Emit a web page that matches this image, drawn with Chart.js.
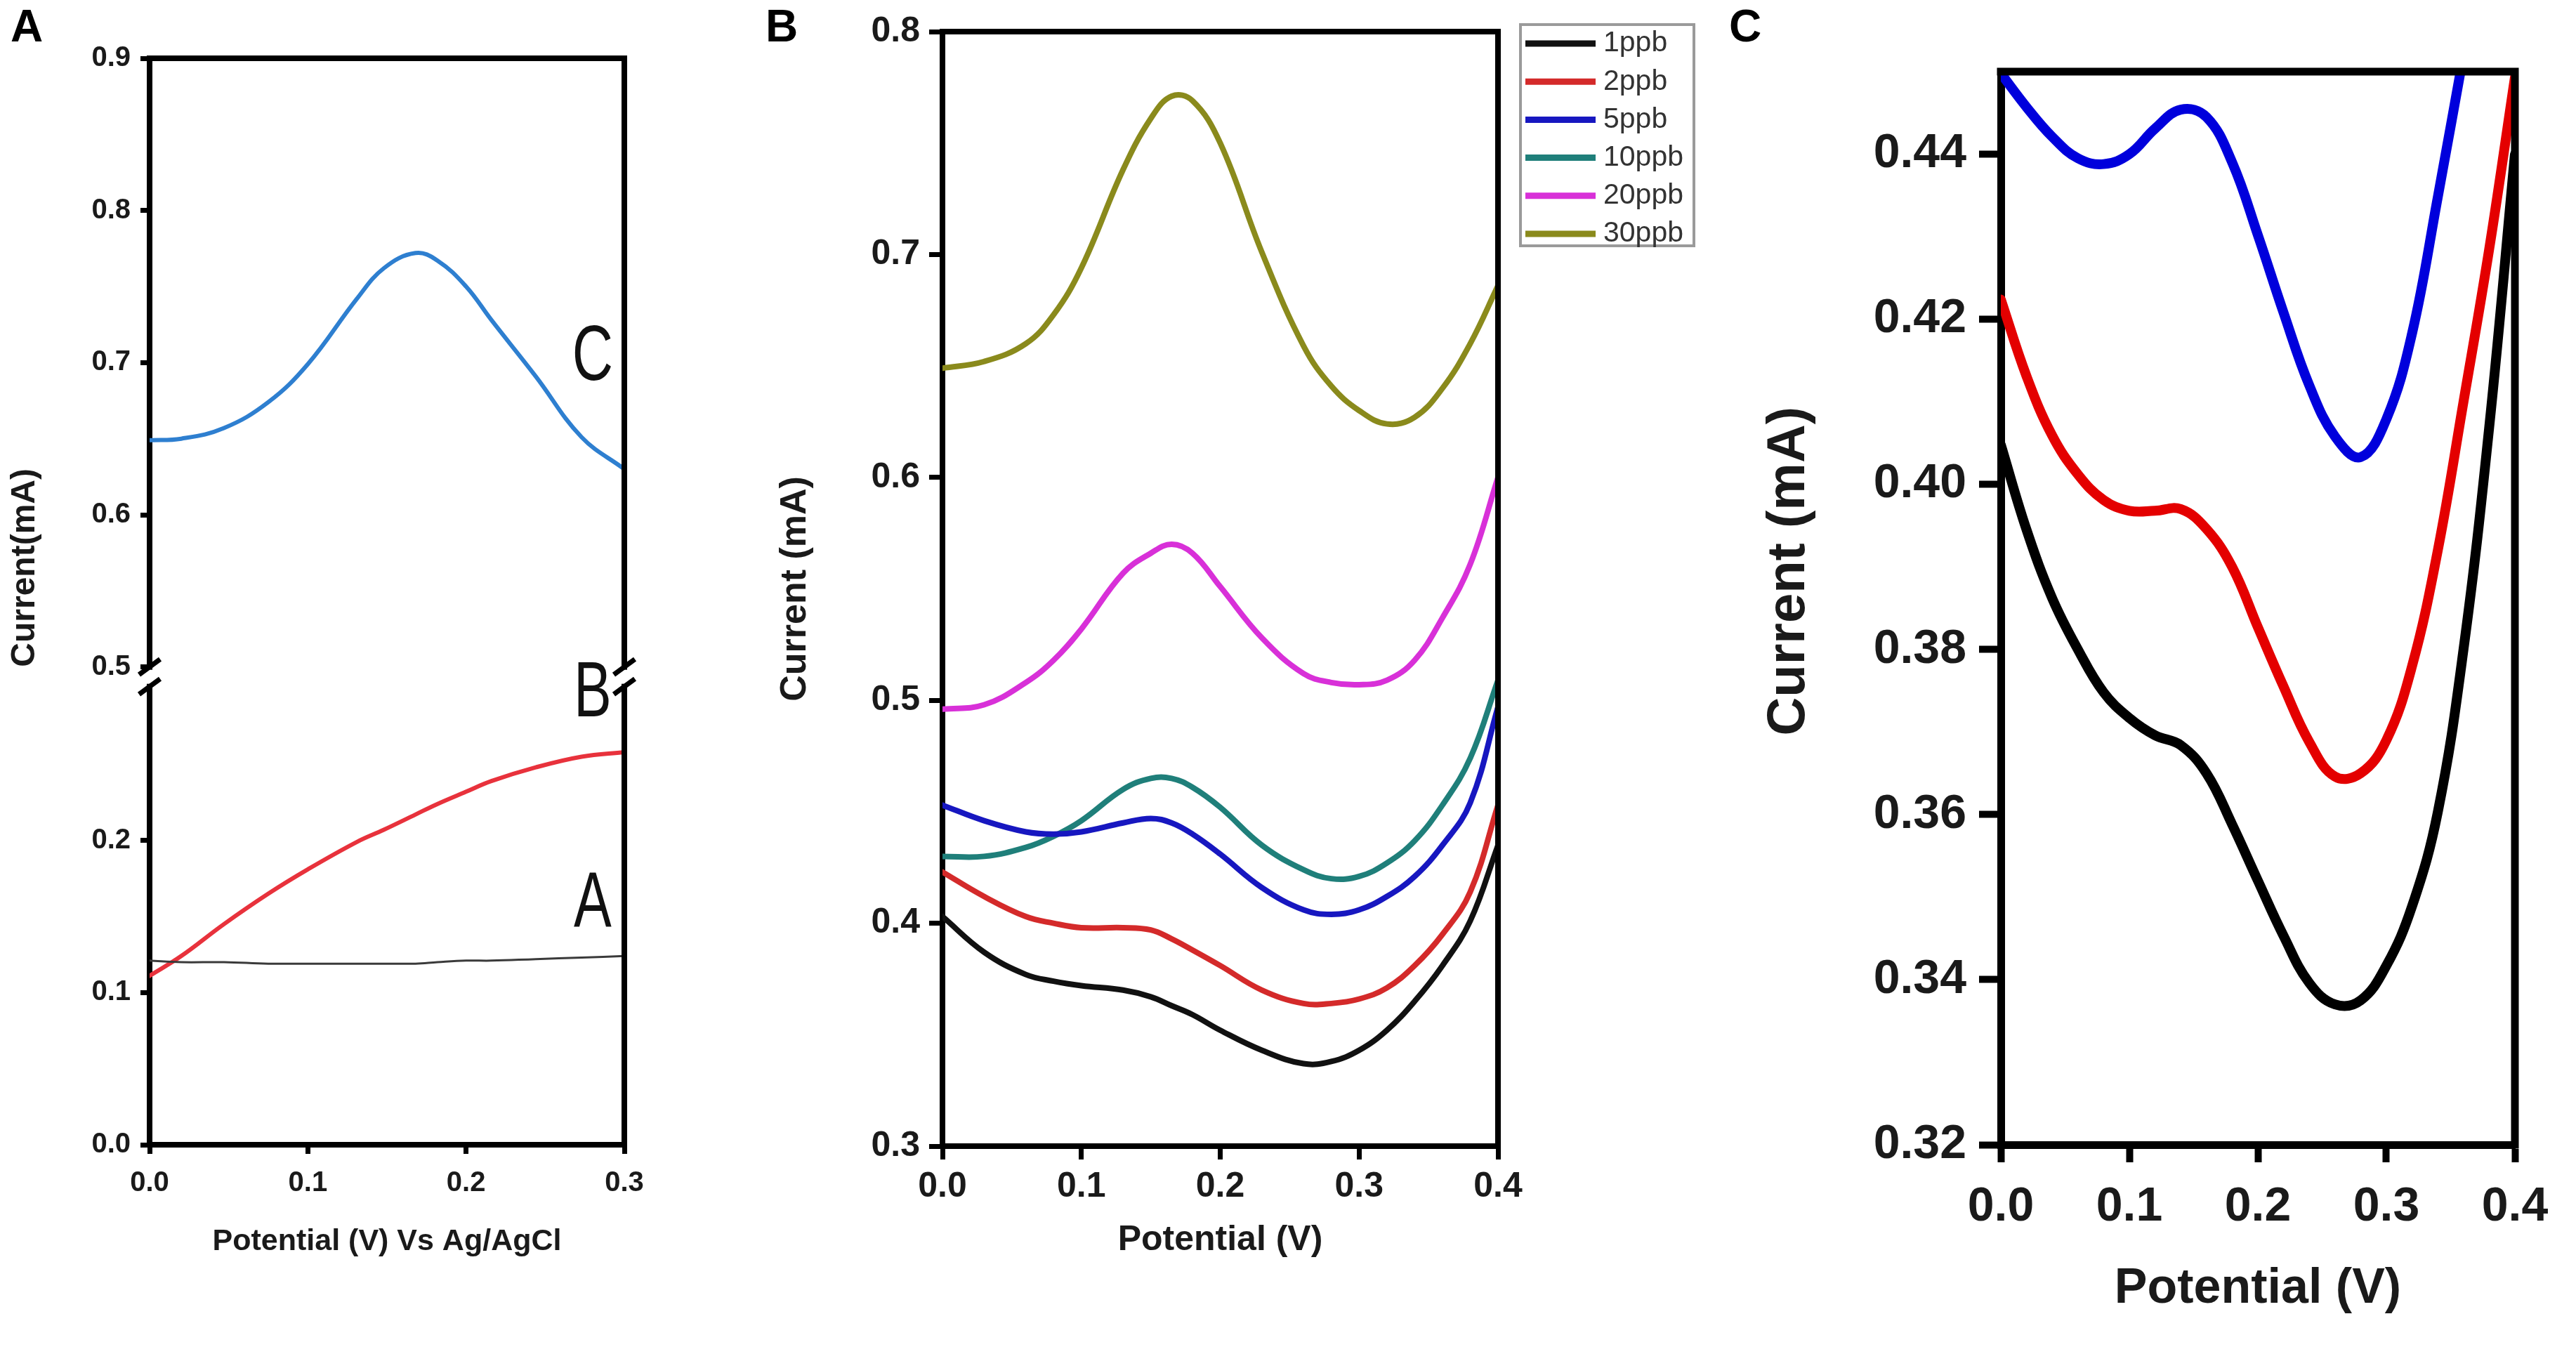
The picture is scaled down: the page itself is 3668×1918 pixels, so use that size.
<!DOCTYPE html>
<html>
<head>
<meta charset="utf-8">
<script src="https://cdn.jsdelivr.net/npm/chart.js@4.4.1/dist/chart.umd.min.js"></script>
<style>
html, body { margin: 0; padding: 0; background: #fff; }
body { width: 3668px; height: 1918px; position: relative; overflow: hidden; font-family: 'Liberation Sans', Arial, sans-serif; }
canvas { position: absolute; top: 0; }
.painel { position: absolute; top: 5px; font-weight: bold; font-size: 64px; line-height: 1; color: #000; }
</style>
</head>
<body>
<canvas id="graficoA" width="1000" height="1918" style="left:0px;width:1000px;height:1918px"></canvas>
<canvas id="graficoB" width="1440" height="1918" style="left:1000px;width:1440px;height:1918px"></canvas>
<canvas id="graficoC" width="1228" height="1918" style="left:2440px;width:1228px;height:1918px"></canvas>
<div class="painel" style="left:15px">A</div>
<div class="painel" style="left:1090px">B</div>
<div class="painel" style="left:2462px">C</div>
<script>
const FONTE = "'Liberation Sans', Arial, sans-serif";

// painel A: eletrodos A, B e C (eixo Y com quebra)
const potA = [0, 0.02, 0.047, 0.075, 0.1, 0.131, 0.148, 0.168, 0.182, 0.2, 0.216, 0.244, 0.273, 0.3];
const correnteA = [0.121, 0.120, 0.120, 0.119, 0.119, 0.119, 0.119, 0.119, 0.120, 0.121, 0.121, 0.122, 0.123, 0.124];
const correnteB = [0.111, 0.124, 0.145, 0.165, 0.181, 0.199, 0.207, 0.217, 0.224, 0.232, 0.239, 0.248, 0.255, 0.258];
const correnteC = [0.649, 0.650, 0.657, 0.674, 0.699, 0.742, 0.762, 0.772, 0.767, 0.750, 0.728, 0.691, 0.651, 0.630];
const ticksXA = [0, 0.1, 0.2, 0.3];
const ticksYABaixo = [0, 0.1, 0.2];
const ticksYACima = [0.5, 0.6, 0.7, 0.8, 0.9];
const letrasA = ['A', 'B', 'C'];

// painel B: concentrações
const potB = [0, 0.03, 0.06, 0.08, 0.1, 0.13, 0.15, 0.165, 0.18, 0.2, 0.23, 0.26, 0.28, 0.3, 0.32, 0.34, 0.36, 0.38, 0.4];
const ppb1 = [0.403, 0.387, 0.377, 0.374, 0.372, 0.370, 0.367, 0.363, 0.359, 0.352, 0.343, 0.337, 0.338, 0.343, 0.352, 0.365, 0.381, 0.401, 0.435];
const ppb2 = [0.423, 0.412, 0.403, 0.400, 0.398, 0.398, 0.397, 0.393, 0.388, 0.381, 0.370, 0.364, 0.364, 0.366, 0.371, 0.381, 0.395, 0.414, 0.453];
const ppb5 = [0.453, 0.446, 0.441, 0.440, 0.441, 0.445, 0.447, 0.445, 0.440, 0.431, 0.416, 0.406, 0.404, 0.406, 0.412, 0.421, 0.435, 0.454, 0.497];
const ppb10 = [0.430, 0.430, 0.434, 0.439, 0.446, 0.460, 0.465, 0.465, 0.461, 0.452, 0.435, 0.424, 0.420, 0.421, 0.427, 0.437, 0.453, 0.474, 0.509];
const ppb20 = [0.496, 0.498, 0.508, 0.518, 0.532, 0.557, 0.566, 0.570, 0.566, 0.551, 0.528, 0.512, 0.508, 0.507, 0.509, 0.518, 0.537, 0.561, 0.600];
const ppb30 = [0.649, 0.652, 0.660, 0.673, 0.694, 0.738, 0.761, 0.771, 0.769, 0.750, 0.701, 0.659, 0.641, 0.630, 0.624, 0.627, 0.640, 0.660, 0.686];
const rotulosB = ['1ppb', '2ppb', '5ppb', '10ppb', '20ppb', '30ppb'];
const ticksXB = [0, 0.1, 0.2, 0.3, 0.4];
const ticksYB = [0.3, 0.4, 0.5, 0.6, 0.7, 0.8];

// painel C: zoom de 1, 2 e 5 ppb
const potC = [0, 0.02, 0.04, 0.06, 0.08, 0.1, 0.12, 0.14, 0.16, 0.18, 0.2, 0.22, 0.24, 0.26, 0.28, 0.3, 0.32, 0.34, 0.36, 0.38, 0.4];
const zoom1 = [0.4048, 0.3945, 0.3862, 0.3800, 0.3748, 0.3717, 0.3696, 0.3684, 0.3650, 0.3588, 0.3520, 0.3453, 0.3396, 0.3370, 0.3375, 0.3417, 0.3489, 0.3603, 0.3800, 0.4069, 0.4400];
const zoom2 = [0.4224, 0.4131, 0.4059, 0.4012, 0.3981, 0.3968, 0.3968, 0.3970, 0.3946, 0.3900, 0.3827, 0.3755, 0.3688, 0.3646, 0.3650, 0.3690, 0.3780, 0.3920, 0.4100, 0.4285, 0.4493];
const zoom5 = [0.4498, 0.4457, 0.4421, 0.4395, 0.4388, 0.4400, 0.4431, 0.4454, 0.4445, 0.4390, 0.4302, 0.4208, 0.4120, 0.4058, 0.4033, 0.4079, 0.4183, 0.4348, 0.4520, null, null];
const ticksXC = [0, 0.1, 0.2, 0.3, 0.4];
const ticksYC = [0.32, 0.34, 0.36, 0.38, 0.40, 0.42, 0.44];

// onde ficam as letras dentro do painel A (valores dos eixos)
const posLetrasA = [
    { x: 0.28, y: 0.158, eixo: 'yBaixo' },
    { x: 0.28, y: 0.296, eixo: 'yBaixo' },
    { x: 0.28, y: 0.703, eixo: 'yCima' }
];

function serie(label, xs, ys, cor, largura, eixoY) {
    return {
        label: label,
        data: xs.map((x, i) => ({ x: x, y: ys[i] })),
        borderColor: cor,
        backgroundColor: cor,
        borderWidth: largura,
        pointRadius: 0,
        fill: false,
        tension: 0.4,
        borderCapStyle: 'round',
        borderJoinStyle: 'round',
        clip: 0,
        yAxisID: eixoY || 'y'
    };
}

// monta um eixo linear com ticks fixos
function eixo(cfg) {
    return {
        type: 'linear',
        position: cfg.pos,
        min: cfg.min,
        max: cfg.max,
        stack: cfg.stack,
        stackWeight: cfg.peso,
        afterBuildTicks: s => { s.ticks = cfg.ticks.map(v => ({ value: v })); },
        afterFit: s => {
            if (cfg.pos === 'bottom') s.height = cfg.tam;
            else s.width = cfg.tam;
        },
        ticks: {
            callback: v => v.toFixed(cfg.casas),
            font: { size: cfg.fonte, weight: 'bold' },
            color: '#1a1a1a',
            padding: cfg.pad,
            maxRotation: 0,
            autoSkip: false
        },
        grid: { drawOnChartArea: false, drawTicks: true, tickLength: cfg.tick, tickWidth: cfg.linha - 1, tickColor: '#000' },
        border: { display: true, color: '#000', width: cfg.linha },
        title: cfg.titulo ? {
            display: true,
            text: cfg.titulo,
            align: cfg.alinha || 'center',
            color: '#1a1a1a',
            font: { size: cfg.fonteTitulo, weight: 'bold' },
            padding: { top: 4, bottom: 4 }
        } : { display: false }
    };
}

// linhas de cima e da direita da caixa
const moldura = {
    id: 'moldura',
    afterDatasetsDraw(chart, args, opts) {
        const { ctx, chartArea: a } = chart;
        ctx.save();
        ctx.strokeStyle = '#000';
        ctx.lineWidth = opts.largura;
        ctx.lineCap = 'square';
        ctx.beginPath();
        ctx.moveTo(a.left, a.top);
        ctx.lineTo(a.right, a.top);
        ctx.lineTo(a.right, a.bottom);
        ctx.stroke();
        ctx.restore();
    }
};

// marcas de quebra do eixo no painel A
const quebra = {
    id: 'quebra',
    afterDraw(chart) {
        const { ctx, chartArea: a } = chart;
        const y0 = chart.scales.yBaixo.top;
        ctx.save();
        [a.left, a.right].forEach(x => {
            ctx.fillStyle = '#fff';
            ctx.fillRect(x - 9, y0 + 4, 18, 20);
            ctx.strokeStyle = '#000';
            ctx.lineWidth = 7;
            [y0, y0 + 28].forEach(y => {
                ctx.beginPath();
                ctx.moveTo(x - 15, y + 11);
                ctx.lineTo(x + 15, y - 11);
                ctx.stroke();
            });
        });
        ctx.restore();
    }
};

// letras A, B, C junto das curvas
const letras = {
    id: 'letras',
    afterDatasetsDraw(chart) {
        const ctx = chart.ctx;
        ctx.save();
        ctx.fillStyle = '#111';
        ctx.font = '112px ' + FONTE;
        ctx.textAlign = 'center';
        ctx.textBaseline = 'middle';
        letrasA.forEach((t, i) => {
            const p = posLetrasA[i];
            const px = chart.scales.x.getPixelForValue(p.x);
            const py = chart.scales[p.eixo].getPixelForValue(p.y);
            ctx.save();
            ctx.translate(px, py);
            ctx.scale(0.72, 1);
            ctx.fillText(t, 0, 0);
            ctx.restore();
        });
        ctx.restore();
    }
};

// legenda com caixa, ao lado do painel B
const legendaB = {
    id: 'legendaB',
    afterDraw(chart) {
        const { ctx, chartArea: a } = chart;
        const x0 = a.right + 32;
        const y0 = a.top - 10;
        ctx.save();
        ctx.strokeStyle = '#9a9a9a';
        ctx.lineWidth = 4;
        ctx.strokeRect(x0, y0, 247, 315);
        ctx.font = '41px ' + FONTE;
        ctx.textBaseline = 'middle';
        ctx.fillStyle = '#333';
        chart.data.datasets.forEach((ds, i) => {
            const y = y0 + 27 + i * 54.2;
            ctx.strokeStyle = ds.borderColor;
            ctx.lineWidth = 9;
            ctx.beginPath();
            ctx.moveTo(x0 + 7, y);
            ctx.lineTo(x0 + 107, y);
            ctx.stroke();
            ctx.fillText(ds.label, x0 + 118, y);
        });
        ctx.restore();
    }
};

function opcoesBase(padding, largura) {
    return {
        responsive: false,
        devicePixelRatio: 1,
        animation: false,
        layout: { padding: padding },
        plugins: {
            legend: { display: false },
            tooltip: { enabled: false },
            moldura: { largura: largura }
        }
    };
}

function criarGraficoA() {
    const ctx = document.getElementById('graficoA').getContext('2d');
    const opcoes = opcoesBase({ left: 3, top: 83, right: 111, bottom: 120 }, 8);
    opcoes.scales = {
        x: eixo({ pos: 'bottom', min: 0, max: 0.3, ticks: ticksXA, casas: 1, tam: 168, fonte: 40, pad: 18, tick: 13, linha: 8,
            titulo: 'Potential (V) Vs Ag/AgCl', fonteTitulo: 43 }),
        yBaixo: eixo({ pos: 'left', min: 0, max: 0.314, stack: 'a', peso: 0.314, ticks: ticksYABaixo, casas: 1, tam: 210, fonte: 40, pad: 14, tick: 13, linha: 8 }),
        yCima: eixo({ pos: 'left', min: 0.5, max: 0.9, stack: 'a', peso: 0.4, ticks: ticksYACima, casas: 1, tam: 210, fonte: 40, pad: 14, tick: 13, linha: 8,
            titulo: 'Current(mA)', fonteTitulo: 48, alinha: 'start' })
    };
    return new Chart(ctx, {
        type: 'line',
        data: {
            datasets: [
                serie('A', potA, correnteA, '#3a3a3a', 3, 'yBaixo'),
                serie('B', potA, correnteB, '#e8323c', 6, 'yBaixo'),
                serie('C', potA, correnteC, '#2e7fd0', 6, 'yCima')
            ]
        },
        options: opcoes,
        plugins: [moldura, letras, quebra]
    });
}

function criarGraficoB() {
    const ctx = document.getElementById('graficoB').getContext('2d');
    const opcoes = opcoesBase({ left: 97, top: 45, right: 307, bottom: 118 }, 8);
    opcoes.scales = {
        x: eixo({ pos: 'bottom', min: 0, max: 0.4, ticks: ticksXB, casas: 1, tam: 168, fonte: 50, pad: 9, tick: 19, linha: 8,
            titulo: 'Potential (V)', fonteTitulo: 50 }),
        y: eixo({ pos: 'left', min: 0.3, max: 0.8, ticks: ticksYB, casas: 1, tam: 245, fonte: 50, pad: 13, tick: 19, linha: 8,
            titulo: 'Current (mA)', fonteTitulo: 52 })
    };
    const cores = ['#111111', '#d42a2a', '#1717c0', '#1f7f7a', '#d830d8', '#8a8a1c'];
    const valores = [ppb1, ppb2, ppb5, ppb10, ppb20, ppb30];
    return new Chart(ctx, {
        type: 'line',
        data: {
            datasets: rotulosB.map((r, i) => serie(r, potB, valores[i], cores[i], 8))
        },
        options: opcoes,
        plugins: [moldura, legendaB]
    });
}

function criarGraficoC() {
    const ctx = document.getElementById('graficoC').getContext('2d');
    const opcoes = opcoesBase({ left: 58, top: 102, right: 87, bottom: 36 }, 11);
    opcoes.scales = {
        x: eixo({ pos: 'bottom', min: 0, max: 0.4, ticks: ticksXC, casas: 1, tam: 252, fonte: 68, pad: 23, tick: 25, linha: 11,
            titulo: 'Potential (V)', fonteTitulo: 70 }),
        // espaços no início sobem o título, como no original
        y: eixo({ pos: 'left', min: 0.32, max: 0.45, ticks: ticksYC, casas: 2, tam: 351, fonte: 68, pad: 18, tick: 31, linha: 11,
            titulo: '     Current (mA)', fonteTitulo: 76 })
    };
    return new Chart(ctx, {
        type: 'line',
        data: {
            datasets: [
                serie('1ppb', potC, zoom1, '#000000', 14),
                serie('2ppb', potC, zoom2, '#e40000', 14),
                serie('5ppb', potC, zoom5, '#0000dc', 14)
            ]
        },
        options: opcoes,
        plugins: [moldura]
    });
}

window.onload = function () {
    criarGraficoA();
    criarGraficoB();
    criarGraficoC();
};
</script>
</body>
</html>
